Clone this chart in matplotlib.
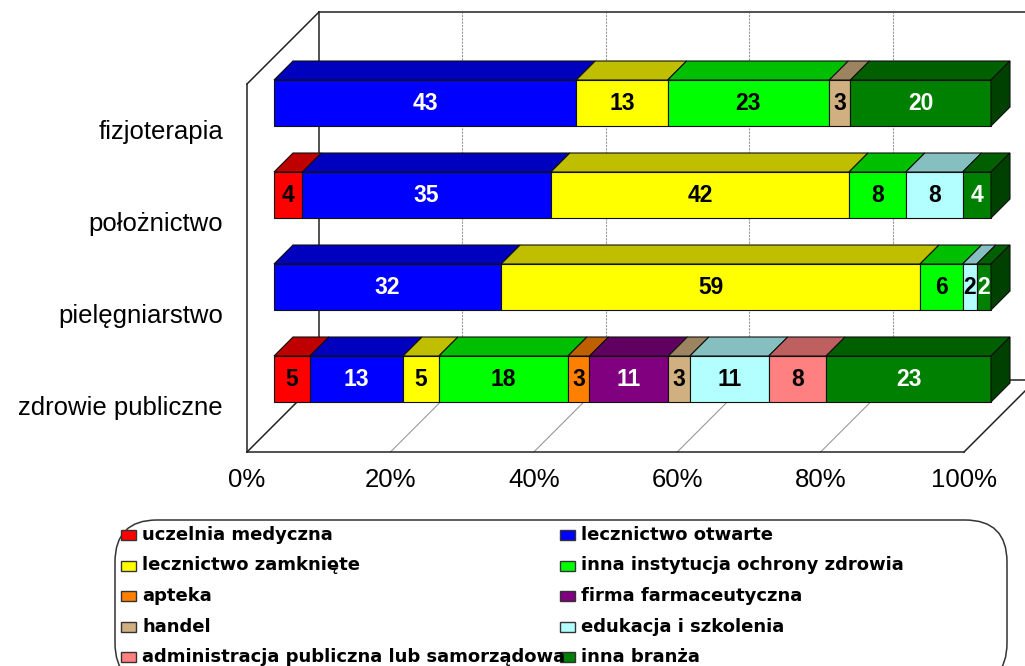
import numpy as np
import matplotlib.pyplot as plt
from matplotlib.patches import Polygon, Rectangle, FancyBboxPatch
from matplotlib.colors import to_rgb

# categories from bottom to top
categories = ['zdrowie publiczne', 'pielęgniarstwo', 'położnictwo', 'fizjoterapia']

series = ['uczelnia medyczna', 'lecznictwo otwarte', 'lecznictwo zamknięte',
          'inna instytucja ochrony zdrowia', 'apteka', 'firma farmaceutyczna',
          'handel', 'edukacja i szkolenia', 'administracja publiczna lub samorządowa',
          'inna branża']

uczelnia = [5, 0, 4, 0]
otwarte = [13, 32, 35, 43]
zamkniete = [5, 59, 42, 13]
inna_inst = [18, 6, 8, 23]
apteka = [3, 0, 0, 0]
firma = [11, 0, 0, 0]
handel = [3, 0, 0, 3]
edukacja = [11, 2, 8, 0]
administracja = [8, 0, 0, 0]
inna_branza = [23, 2, 4, 20]

colors = ['#FF0000', '#0000FF', '#FFFF00', '#00FF00', '#FF8000', '#800080',
          '#D0B080', '#B3FFFF', '#FF8080', '#008000']
white_text = ['lecznictwo otwarte', 'firma farmaceutyczna', 'inna branża']

ticks = [0, 20, 40, 60, 80, 100]

values = np.array([uczelnia, otwarte, zamkniete, inna_inst, apteka, firma,
                   handel, edukacja, administracja, inna_branza], dtype=float)
pct = values / values.sum(axis=0) * 100

W, H = 1025, 666
X0, Y0 = 274, 379          # pixel position of (0%, first category)
PX_PCT, PX_ROW = 7.17, 92.0
BAR_H = 0.5
BAR_D = 19                  # bar depth in pixels
Z_FRONT, Z_BACK = -27, 45   # walls depth in pixels

fig = plt.figure(figsize=(W / 100, H / 100), dpi=100)
ax = fig.add_axes([0, 0, 1, 1])
ax.set_xlim(-X0 / PX_PCT, (W - X0) / PX_PCT)
ax.set_ylim(-(H - Y0) / PX_ROW, Y0 / PX_ROW)
ax.axis('off')


def proj(x, y, z):
    return x + z / PX_PCT, y + z / PX_ROW


def line3(p, q, **kw):
    a = proj(*p)
    b = proj(*q)
    ax.plot([a[0], b[0]], [a[1], b[1]], **kw)


def shade(c, f):
    return tuple(v * f for v in to_rgb(c))


ylo, yhi = -0.5, len(categories) - 0.5

# walls and floor
for t in ticks[1:-1]:
    line3((t, ylo, Z_BACK), (t, yhi, Z_BACK), color='#999999', lw=0.8, ls=(0, (2, 1)), zorder=0)
    line3((t, ylo, Z_FRONT), (t, ylo, Z_BACK), color='#999999', lw=0.8, zorder=0)
frame = dict(color='#222222', lw=1.1, zorder=1)
line3((0, ylo, Z_BACK), (0, yhi, Z_BACK), **frame)
line3((0, yhi, Z_BACK), (110, yhi, Z_BACK), **frame)
line3((0, ylo, Z_BACK), (100, ylo, Z_BACK), **frame)
line3((0, ylo, Z_FRONT), (0, yhi, Z_FRONT), **frame)
line3((0, yhi, Z_FRONT), (0, yhi, Z_BACK), **frame)
line3((0, ylo, Z_FRONT), (0, ylo, Z_BACK), **frame)
line3((0, ylo, Z_FRONT), (100, ylo, Z_FRONT), **frame)
line3((100, ylo, Z_FRONT), (100, ylo, Z_BACK), **frame)

# bars
ys = np.arange(len(categories))
lefts = np.zeros(len(categories))
for i, name in enumerate(series):
    w = pct[i]
    for j in ys:
        if w[j] <= 0:
            continue
        l, r = lefts[j], lefts[j] + w[j]
        top = j + BAR_H / 2
        bot = j - BAR_H / 2
        ax.barh(j, w[j], left=l, height=BAR_H, color=colors[i],
                edgecolor='#111111', linewidth=0.8, zorder=3)
        tface = [proj(l, top, 0), proj(r, top, 0), proj(r, top, BAR_D), proj(l, top, BAR_D)]
        ax.add_patch(Polygon(tface, closed=True, fc=shade(colors[i], 0.75),
                             ec='#111111', lw=0.8, zorder=3))
        if r >= 99.99:
            sface = [proj(r, bot, 0), proj(r, top, 0), proj(r, top, BAR_D), proj(r, bot, BAR_D)]
            ax.add_patch(Polygon(sface, closed=True, fc=shade(colors[i], 0.5),
                                 ec='#111111', lw=0.8, zorder=3))
        ax.text((l + r) / 2, j, f'{int(values[i, j])}', ha='center', va='center',
                fontsize=16.5, fontweight='bold', family='Liberation Sans',
                color='white' if name in white_text else 'black', zorder=5)
    lefts += w

# axis labels
for t in ticks:
    ax.annotate(f'{t}%', proj(t, ylo, Z_FRONT), xytext=(0, -28), textcoords='offset pixels',
                ha='center', va='center', fontsize=18.5, family='Liberation Sans')
for j, cat in enumerate(categories):
    ax.annotate(cat, proj(0, j, Z_FRONT), xytext=(-24, -2), textcoords='offset pixels',
                ha='right', va='center', fontsize=18.5, family='Liberation Sans')

# legend
lax = fig.add_axes([0, 0, 1, 1])
lax.set_xlim(0, W)
lax.set_ylim(H, 0)
lax.axis('off')
lax.add_patch(FancyBboxPatch((115, 520), 892, 165, boxstyle='round,pad=0,rounding_size=42',
                             fc='white', ec='#333333', lw=1.1))
for k, name in enumerate(series):
    col, row = k % 2, k // 2
    x = 121 if col == 0 else 560
    y = 535 + 30.5 * row
    lax.add_patch(Rectangle((x, y - 5), 15, 10, fc=colors[k], ec='#333333', lw=1))
    lax.text(x + 21, y, name, ha='left', va='center', fontsize=13, fontweight='bold',
             family='DejaVu Sans')

fig.savefig('out.png', dpi=100)
